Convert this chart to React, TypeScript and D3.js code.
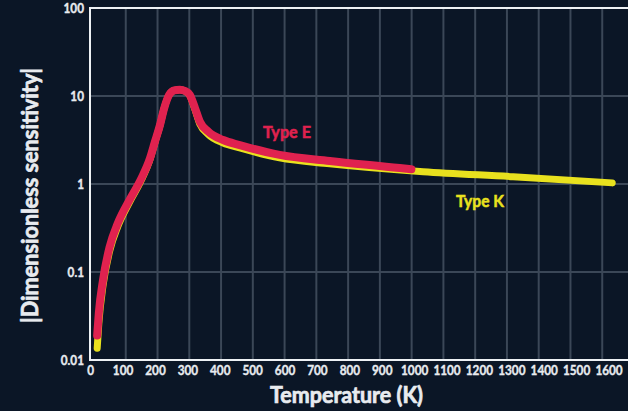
import React from "react";
import * as d3 from "d3";

const W = 628;
const H = 411;

// Type E thermocouple (temperature K, sensitivity)
const typeE_T = [20, 25, 38, 58, 84, 120, 156, 183, 198, 214, 227, 242, 258, 275, 292, 306, 322, 337, 363, 409, 460, 583, 738, 954, 990];
const typeE_S = [0.019, 0.034, 0.081, 0.19, 0.36, 0.66, 1.15, 1.96, 3.0, 4.7, 7.3, 10.3, 11.6, 11.8, 11.4, 10.3, 7.3, 5.1, 3.93, 3.16, 2.77, 2.14, 1.83, 1.52, 1.47];

// Type K thermocouple
const typeK_T = [20, 25, 38, 58, 84, 120, 156, 183, 198, 214, 227, 242, 258, 275, 292, 306, 322, 337, 363, 409, 460, 583, 738, 1026, 1304, 1610];
const typeK_S = [0.0136, 0.026, 0.07, 0.17, 0.33, 0.62, 1.1, 1.9, 2.95, 4.65, 7.3, 10.3, 11.6, 11.8, 11.3, 10.1, 7.0, 4.8, 3.65, 2.92, 2.57, 1.98, 1.7, 1.38, 1.21, 1.03];

const xTicks = d3.range(0, 1700, 100);
const yTicks = [0.01, 0.1, 1, 10, 100];
const yTickLabels = ["0.01", "0.1", "1", "10", "100"];
const yGrid = [0.1, 1, 10];
const bgGridCount = 17;

const FONT = "Lato, 'Open Sans', sans-serif";
const TEXT = "#e8ebef";
const RED = "#e0224f";
const YELLOW = "#e9e11e";

export default function App() {
  const x = d3.scaleLinear().domain([0, 1600]).range([90.7, 609]);
  const y = d3.scaleLog().domain([0.01, 100]).range([360, 8]);
  const gridX = d3.scaleLinear().domain([0, bgGridCount]).range([94, 604 + 30]);

  const line = d3
    .line<[number, number]>()
    .x((d) => x(d[0]))
    .y((d) => y(d[1]))
    .curve(d3.curveMonotoneX);

  const eData: [number, number][] = typeE_T.map((t, i) => [t, typeE_S[i]]);
  const kData: [number, number][] = typeK_T.map((t, i) => [t, typeK_S[i]]);

  const left = 90;
  const right = W;
  const top = 8;
  const bottom = 360;

  return (
    <svg width={W} height={H} style={{ position: "absolute", left: 0, top: 0, background: "#0b1626" }}>
      <rect x={0} y={0} width={W} height={H} fill="#0b1626" />
      {d3.range(1, bgGridCount + 1).map((k) => (
        <line key={"gx" + k} x1={gridX(k)} x2={gridX(k)} y1={top} y2={bottom} stroke="#3b4757" strokeWidth={2} />
      ))}
      {yGrid.map((v) => (
        <line key={"gy" + v} x1={left} x2={right} y1={y(v)} y2={y(v)} stroke="#3b4757" strokeWidth={2} />
      ))}
      <path d={line(kData) || ""} fill="none" stroke={YELLOW} strokeWidth={7} strokeLinecap="round" strokeLinejoin="round" />
      <path d={line(eData) || ""} fill="none" stroke={RED} strokeWidth={8} strokeLinecap="round" strokeLinejoin="round" />
      <line x1={left} x2={right} y1={top} y2={top} stroke="#eef1f4" strokeWidth={2} />
      <line x1={left} x2={right} y1={bottom} y2={bottom} stroke="#eef1f4" strokeWidth={2} />
      <line x1={left} x2={left} y1={top - 1} y2={bottom + 1} stroke="#eef1f4" strokeWidth={2} />
      {yTicks.map((v, i) => (
        <g key={"yt" + v} transform={`translate(84,${y(v)}) scale(0.84,1)`}>
          <text dy="0.36em" textAnchor="end" fill={TEXT} stroke={TEXT} strokeWidth={0.4} fontFamily={FONT} fontWeight="bold" fontSize={14}>
            {yTickLabels[i]}
          </text>
        </g>
      ))}
      {xTicks.map((v) => (
        <g key={"xt" + v} transform={`translate(${x(v)},375) scale(0.84,1)`}>
          <text textAnchor="middle" fill={TEXT} stroke={TEXT} strokeWidth={0.4} fontFamily={FONT} fontWeight="bold" fontSize={14}>
            {v}
          </text>
        </g>
      ))}
      <text x={270} y={403} textLength={153} lengthAdjust="spacingAndGlyphs" fill={TEXT} stroke={TEXT} strokeWidth={0.7} fontFamily={FONT} fontWeight="bold" fontSize={22}>
        Temperature (K)
      </text>
      <text transform="translate(38,195.5) rotate(-90)" textAnchor="middle" textLength={255} lengthAdjust="spacingAndGlyphs" fill={TEXT} stroke={TEXT} strokeWidth={0.7} fontFamily={FONT} fontWeight="bold" fontSize={22}>
        |Dimensionless sensitivity|
      </text>
      <text x={263} y={138} textLength={48} lengthAdjust="spacingAndGlyphs" fill={RED} stroke={RED} strokeWidth={0.5} fontFamily={FONT} fontWeight="bold" fontSize={17}>
        Type E
      </text>
      <text x={456} y={207} textLength={48} lengthAdjust="spacingAndGlyphs" fill={YELLOW} stroke={YELLOW} strokeWidth={0.5} fontFamily={FONT} fontWeight="bold" fontSize={17}>
        Type K
      </text>
    </svg>
  );
}
